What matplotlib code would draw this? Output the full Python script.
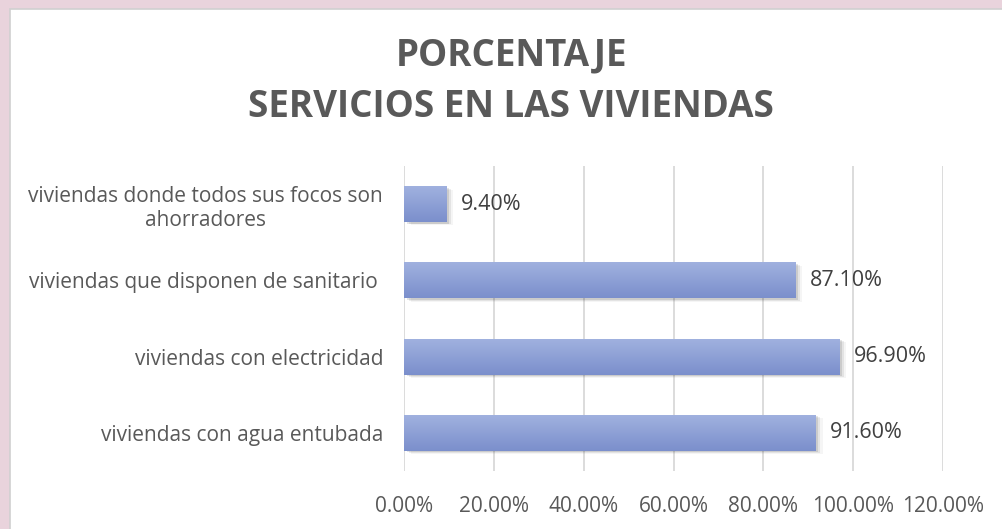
import matplotlib.pyplot as plt
import matplotlib.patches as mpatches
from matplotlib.colors import LinearSegmentedColormap
import numpy as np

plt.rcParams['font.family'] = ['Open Sans', 'DejaVu Sans']

# data (bottom to top)
categorias = ['viviendas con agua entubada', 'viviendas con electricidad',
              'viviendas que disponen de sanitario ',
              'viviendas donde todos sus focos son\nahorradores']
valores = [91.6, 96.9, 87.1, 9.4]
ticks = [0, 20, 40, 60, 80, 100, 120]
titulo = ['PORCENTAJE', 'SERVICIOS EN LAS VIVIENDAS']

gris = '#595959'

fig = plt.figure(figsize=(10.02, 5.29), dpi=100)
fig.patch.set_facecolor('#e9d3dc')

# white chart box
caja = mpatches.Rectangle((10 / 1002, -0.01), 1.0, 1 - 9 / 529 + 0.01,
                          transform=fig.transFigure, facecolor='white',
                          edgecolor='#d0d0d0', linewidth=1.2, zorder=-5)
fig.add_artist(caja)

ax = fig.add_axes([404 / 1002, 1 - 471 / 529, 539 / 1002, 305 / 529])
ax.set_facecolor('none')

y = np.arange(len(categorias))
altura = 0.47
barras = ax.barh(y, valores, height=altura, color='none', zorder=3)

# gradient fill + soft shadow
grad = np.linspace(0, 1, 64).reshape(-1, 1)
cmap = LinearSegmentedColormap.from_list('g', ['#a0b1df', '#7b8fcc'])
for b in barras:
    x0, y0, w, h = b.get_x(), b.get_y(), b.get_width(), b.get_height()
    for k, a in enumerate([0.10, 0.07, 0.04]):
        d = 0.6 + k * 0.5
        sh = mpatches.Rectangle((x0 + d, y0 - 0.02 - k * 0.012), w, h,
                                facecolor='black', alpha=a, linewidth=0, zorder=2)
        ax.add_patch(sh)
    im = ax.imshow(grad, extent=(x0, x0 + w, y0, y0 + h), cmap=cmap,
                   aspect='auto', origin='upper', zorder=3)
    im.set_clip_path(b)

for b, v in zip(barras, valores):
    ax.text(b.get_width() + 3.3, b.get_y() + b.get_height() / 2, f'{v:.2f}%',
            va='center', ha='left', fontsize=15.5, color='#404040', zorder=4)

ax.set_xlim(0, 120)
ax.set_ylim(-0.5, len(categorias) - 0.5)
ax.set_xticks(ticks)
ax.set_xticklabels([f'{t:.2f}%' for t in ticks], fontsize=15, color=gris)
ax.set_yticks(y)
ax.set_yticklabels(categorias, fontsize=15, color=gris, multialignment='center')
ax.tick_params(axis='both', length=0)
ax.tick_params(axis='y', pad=15)
ax.tick_params(axis='x', pad=18)
ax.grid(axis='x', color='#d9d9d9', linewidth=1.3, zorder=0)
ax.set_axisbelow(True)
for s in ax.spines.values():
    s.set_visible(False)

for linea, ypix in zip(titulo, [55, 107]):
    fig.text(511 / 1002, 1 - ypix / 529, linea, ha='center', va='center',
             fontsize=26.5, fontweight='bold', color=gris)

fig.savefig('out.png', dpi=100, facecolor=fig.get_facecolor())
